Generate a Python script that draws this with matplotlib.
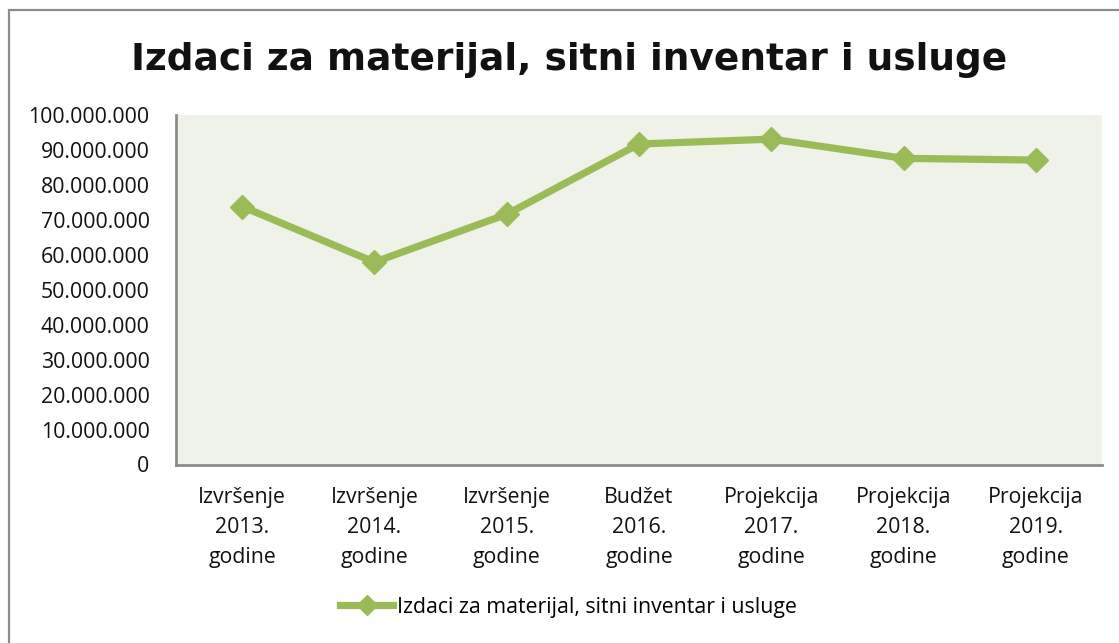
import matplotlib
matplotlib.use("Agg")
import matplotlib.pyplot as plt
from matplotlib.patches import Rectangle
from matplotlib.lines import Line2D
from matplotlib.ticker import FuncFormatter

title = "Izdaci za materijal, sitni inventar i usluge"
categories = ["Izvršenje\n2013.\ngodine", "Izvršenje\n2014.\ngodine", "Izvršenje\n2015.\ngodine",
              "Budžet\n2016.\ngodine", "Projekcija\n2017.\ngodine", "Projekcija\n2018.\ngodine",
              "Projekcija\n2019.\ngodine"]
values = [73.8e6, 57.9e6, 71.6e6, 91.7e6, 93.1e6, 87.6e6, 87.1e6]
series_name = "Izdaci za materijal, sitni inventar i usluge"
yticks = [i * 10_000_000 for i in range(11)]

W, H = 1119, 643
fig = plt.figure(figsize=(W / 100, H / 100), dpi=100)
fig.patch.set_facecolor("white")

# outer chart border
fig.patches.append(Rectangle((9 / W, -0.05), (W + 20) / W, 1 - 10 / H + 0.05,
                             transform=fig.transFigure, fill=False,
                             edgecolor="#8c8c8c", linewidth=1.6))

left, right, top, bottom = 176, 1102, 115, 464.5
ax = fig.add_axes([left / W, 1 - bottom / H, (right - left) / W, (bottom - top) / H])
ax.set_facecolor("#EEF2E8")

green = "#9BBB59"
x = list(range(len(categories)))
ax.plot(x, values, color=green, linewidth=5.2, marker="D", markersize=12,
        solid_joinstyle="miter")

ax.set_xlim(-0.5, len(categories) - 0.5)
ax.set_ylim(0, 100_000_000)
ax.set_yticks(yticks)
ax.yaxis.set_major_formatter(FuncFormatter(lambda v, p: f"{int(v):,}".replace(",", ".")))
ax.set_xticks(x)
ax.set_xticklabels(categories, linespacing=1.58)

font = "Open Sans"
fs = 15.3
for lab in ax.get_yticklabels():
    lab.set_fontfamily(font)
    lab.set_fontsize(fs)
    lab.set_color("#111111")
for lab in ax.get_xticklabels():
    lab.set_fontfamily(font)
    lab.set_fontsize(fs)
    lab.set_color("#111111")

ax.tick_params(axis="both", length=0)
ax.tick_params(axis="y", pad=19)
ax.tick_params(axis="x", pad=16)

for s in ["top", "right"]:
    ax.spines[s].set_visible(False)
for s in ["left", "bottom"]:
    ax.spines[s].set_color("#8c8c8c")
    ax.spines[s].set_linewidth(2)

fig.text(0.509, 1 - 60 / H, title, ha="center", va="center",
         fontsize=27, fontweight="bold", fontfamily="DejaVu Sans", color="#111111")

handle = Line2D([], [], color=green, linewidth=5.2, marker="D", markersize=10)
fig.legend([handle], [series_name], loc="center", bbox_to_anchor=(0.508, 1 - 607 / H),
           frameon=False, handlelength=2.5, handletextpad=0.15,
           prop={"family": font, "size": fs})

fig.savefig("out.png", dpi=100)
